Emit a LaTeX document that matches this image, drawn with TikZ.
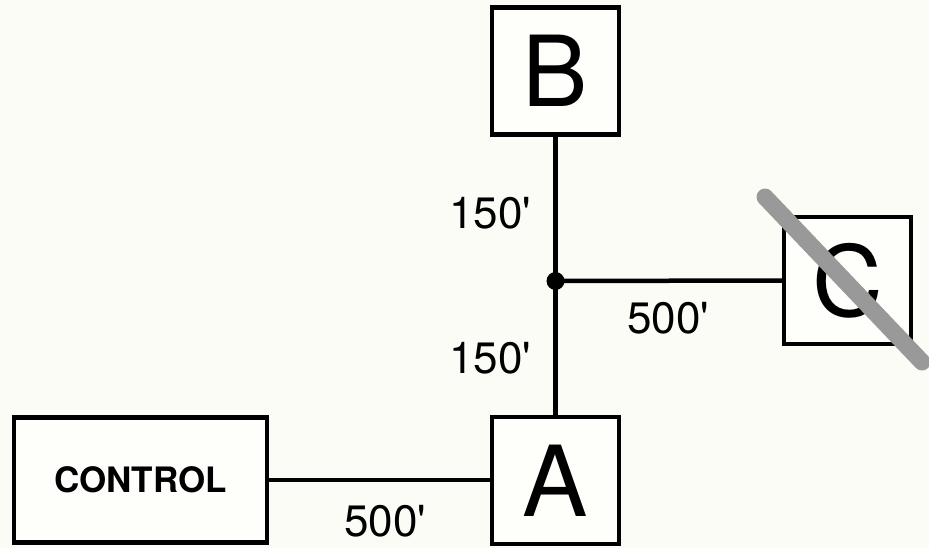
\documentclass[tikz,border=0pt]{standalone}
\usepackage{fontspec}
\setmainfont{TeX Gyre Heros}
\usepackage{textcomp}

\begin{document}
\begin{tikzpicture}[
                x=1pt, y=-1pt, % pixel units, y down
                every node/.style={font=\fontsize{44}{46}\selectfont, inner sep=0pt},
                box/.style={draw, line width=4.5pt, fill=white!60!paper, minimum width=127pt, minimum height=127pt,
                            font=\fontsize{98}{100}\selectfont},
                wire/.style={line width=4.5pt}
            ]
            \definecolor{paper}{HTML}{FCFCF6}

            \useasboundingbox (0,0) rectangle (929,548);
            \fill[paper] (0,0) rectangle (929,548);

            % boxes
            \node[box] (b) at (555.5,71) {B};
            \node[box] (c) at (847.5,280.5) {C};
            \node[box] (a) at (555.5,480.5) {A};
            \node[box, minimum width=253pt, minimum height=125pt,
                  font=\fontsize{35}{37}\selectfont\bfseries] (ctrl) at (140.5,480) {CONTROL};

            % junction
            \node[circle, fill=black, minimum size=18pt] (j) at (555.5,281) {};

            \draw[wire] (b.south) -- (j.center) -- (a.north);
            \draw[wire] (j.center) -- (c.west);
            \draw[wire] (ctrl.east) -- (a.west |- ctrl.east);

            \node at (490,213) {150\textquotesingle};
            \node at (490,358) {150\textquotesingle};
            \node at (668,318) {500\textquotesingle};
            \node at (385,521) {500\textquotesingle};

            % C is crossed out
            \draw[line width=17pt, color=black!40, line cap=round] (765,197) -- (922,362);

        \end{tikzpicture}
\end{document}
